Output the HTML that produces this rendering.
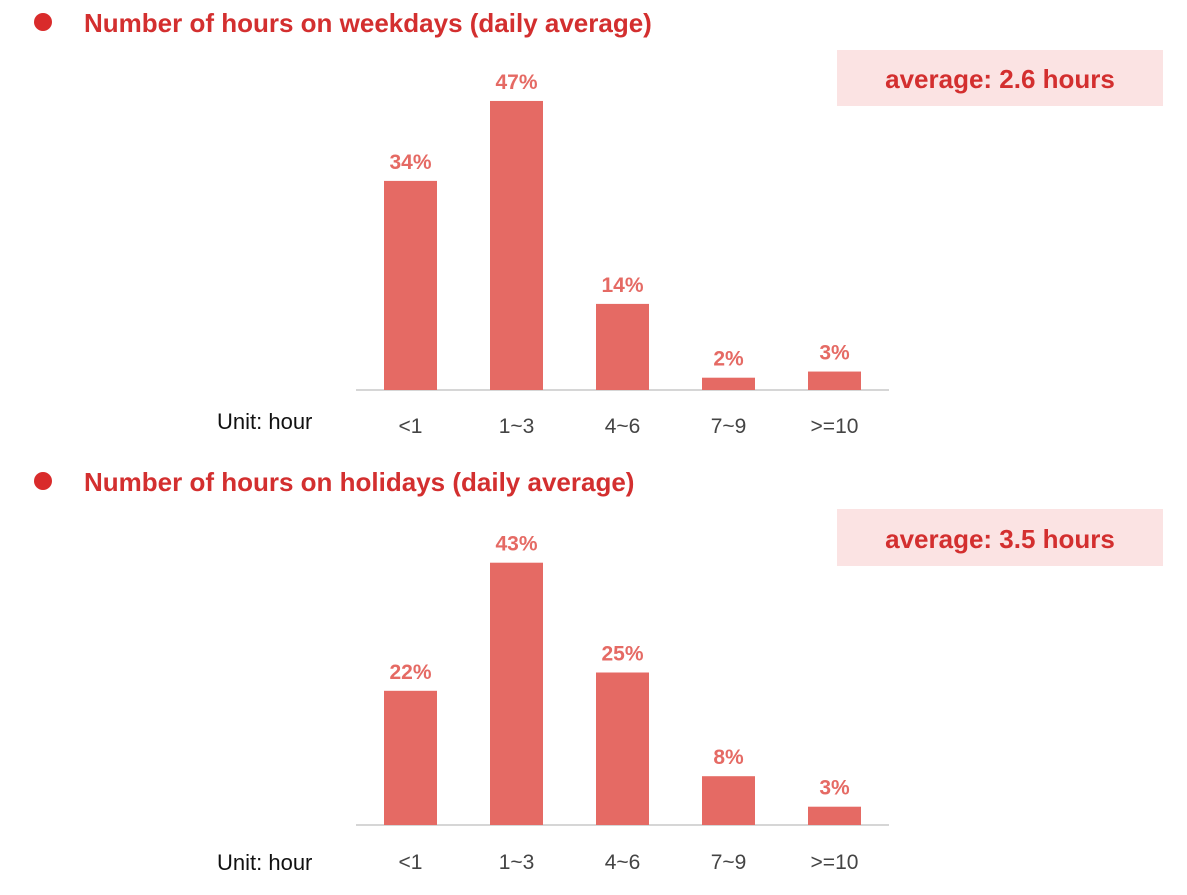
<!DOCTYPE html>
<html><head><meta charset="utf-8"><style>
body{margin:0;width:1187px;height:890px;background:#fff;font-family:"Liberation Sans",sans-serif;overflow:hidden}
svg text{font-family:"Liberation Sans",sans-serif}
</style></head><body>
<svg id="s" width="1187" height="890">
<g>
<circle cx="43" cy="22" r="9" fill="#d92b2b"/>
<text x="84" y="32" font-size="26" font-weight="bold" fill="#d32f2f">Number of hours on weekdays (daily average)</text>
<rect x="837" y="50" width="326" height="56" fill="#fbe3e3"/>
<text x="1000" y="88" text-anchor="middle" font-size="26" font-weight="bold" fill="#d32f2f">average: 2.6 hours</text>
<text x="217" y="429" font-size="22" fill="#111">Unit: hour</text>
</g>
<g>
<circle cx="43" cy="481" r="9" fill="#d92b2b"/>
<text x="84" y="491" font-size="26" font-weight="bold" fill="#d32f2f">Number of hours on holidays (daily average)</text>
<rect x="837" y="509" width="326" height="57" fill="#fbe3e3"/>
<text x="1000" y="548" text-anchor="middle" font-size="26" font-weight="bold" fill="#d32f2f">average: 3.5 hours</text>
<text x="217" y="870" font-size="22" fill="#111">Unit: hour</text>
</g>
</svg>
<script>
const categories=["<1","1~3","4~6","7~9",">=10"];
const weekdayValues=[34,47,14,2,3];
const holidayValues=[22,43,25,8,3];
const svg=document.getElementById('s');
const NS="http://www.w3.org/2000/svg";
function mk(t,a){const e=document.createElementNS(NS,t);for(const k in a)e.setAttribute(k,a[k]);return e;}
function drawChart(vals,baseY,scale,tickY,prefix){
  const g=mk('g',{});
  
  
  svg.appendChild(g);
  const ax=mk('line',{x1:356,x2:889,y1:baseY,y2:baseY,stroke:'#c8c8c8','stroke-width':1.5});
  
  
  g.appendChild(ax);
  const xs=i=>384+i*106;
  const ys=v=>baseY-v*scale;
  categories.forEach((c,i)=>{
    const v=vals[i];
    const r=mk('rect',{x:xs(i),y:ys(v),width:53,height:baseY-ys(v),fill:'#e56a64'});
    
    
    g.appendChild(r);
    const l=mk('text',{x:xs(i)+26.5,y:ys(v)-12,'text-anchor':'middle','font-size':21,'font-weight':'bold',fill:'#e56a64'});
    l.textContent=v+'%';
    
    
    g.appendChild(l);
    const t=mk('text',{x:xs(i)+26.5,y:tickY,'text-anchor':'middle','font-size':21,fill:'#444'});
    t.textContent=c;
    
    
    g.appendChild(t);
  });
}
drawChart(weekdayValues,390,6.15,433,'weekday');
drawChart(holidayValues,825,6.1,869,'holiday');
</script>
</body></html>
